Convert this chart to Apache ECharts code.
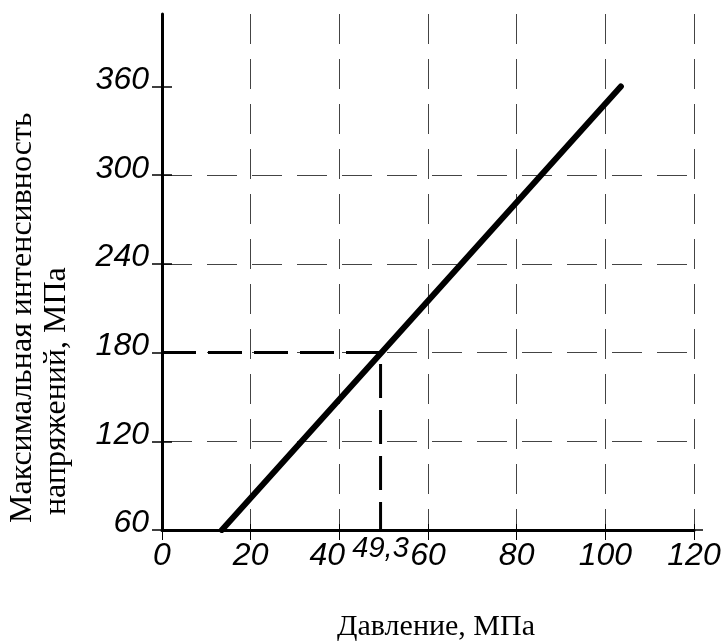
<!DOCTYPE html>
<html>
<head>
<meta charset="utf-8">
<script src="https://cdn.jsdelivr.net/npm/echarts@6/dist/echarts.min.js"></script>
<style>
html, body { margin: 0; padding: 0; background: #fff; }
#chart { width: 725px; height: 641px; }
</style>
</head>
<body>
<div id="chart"></div>
<script>
// давление, МПа -> максимальная интенсивность напряжений, МПа
const pressure = [13.5, 103.5]
const stress = [60, 360]
// отметка на 180 МПа
const markPressure = 49.3
const markStress = 180
const markLabel = '49,3'
const xTicks = [0, 20, 40, 60, 80, 100, 120]
const yTicks = [60, 120, 180, 240, 300, 360]
const yMax = 409
const xTitle = 'Давление, МПа'
const yTitle = ['Максимальная интенсивность', 'напряжений, МПа']

const numFont = '"Liberation Sans", Arial, sans-serif'
const titleFont = '"Liberation Serif", "DejaVu Serif", serif'
const numStyle = { fontFamily: numFont, fontStyle: 'italic', fontSize: 32, color: '#000' }

const chart = echarts.init(document.getElementById('chart'))

const option = {
    animation: false,
    grid: { left: 162, top: 14, right: 31, bottom: 111 },
    xAxis: [
        {
            type: 'value',
            min: xTicks[0],
            max: xTicks[xTicks.length - 1],
            interval: 20,
            axisLine: {
                show: true,
                lineStyle: { color: '#000', width: 3 },
                symbol: ['none', 'rect'],
                symbolSize: [1.5, 18]
            },
            axisTick: { show: true, length: 10, lineStyle: { color: '#000', width: 1 } },
            axisLabel: Object.assign({
                margin: 10,
                formatter: v => v === 40 ? '{l|40}' : String(v),
                rich: {
                    l: Object.assign({ padding: [0, 24, 0, 0] }, numStyle)
                }
            }, numStyle),
            splitLine: { show: true, lineStyle: { color: '#444', width: 1, type: [30, 15] } }
        },
        {
            type: 'value',
            position: 'bottom',
            min: xTicks[0],
            max: xTicks[xTicks.length - 1],
            interval: 20,
            axisLine: { show: false },
            axisTick: { show: true, inside: true, length: 6, lineStyle: { color: '#000', width: 1 } },
            axisLabel: { show: false },
            splitLine: { show: false }
        }
    ],
    yAxis: [
        {
            type: 'value',
            min: yTicks[0],
            max: yMax,
            interval: 60,
            axisLine: { show: true, lineStyle: { color: '#000', width: 3 } },
            axisTick: { show: true, length: 10, customValues: yTicks, lineStyle: { color: '#000', width: 1.5 } },
            axisLabel: Object.assign({
                margin: 13,
                customValues: yTicks,
                formatter: v => '{u|' + v + '}',
                rich: {
                    u: Object.assign({ padding: [0, 0, 13, 0] }, numStyle)
                }
            }, numStyle),
            splitLine: {
                show: true,
                showMinLine: false,
                showMaxLine: false,
                lineStyle: { color: '#444', width: 1, type: [30, 15] }
            }
        },
        {
            type: 'value',
            position: 'left',
            min: yTicks[0],
            max: yMax,
            interval: 60,
            axisLine: { show: false },
            axisTick: { show: true, inside: true, length: 10, customValues: yTicks, lineStyle: { color: '#000', width: 1.5 } },
            axisLabel: { show: false },
            splitLine: { show: false }
        }
    ],
    series: [
        {
            type: 'line',
            data: pressure.map((p, i) => [p, stress[i]]),
            symbol: 'none',
            lineStyle: { color: '#000', width: 6, cap: 'round' },
            z: 5
        },
        {
            type: 'line',
            data: [
                [xTicks[0], markStress],
                [markPressure, markStress],
                {
                    value: [markPressure, yTicks[0]],
                    label: Object.assign({
                        show: true,
                        position: 'bottom',
                        distance: 4,
                        formatter: markLabel
                    }, numStyle, { fontSize: 29 })
                }
            ],
            showSymbol: true,
            symbol: 'circle',
            symbolSize: 0,
            lineStyle: { color: '#000', width: 3, type: [34, 12] },
            z: 4
        }
    ],
    graphic: [
        {
            type: 'text',
            x: 23,
            y: 523,
            rotation: Math.PI / 2,
            style: { text: yTitle[0], fontSize: 32, fontFamily: titleFont, fill: '#000', align: 'left', verticalAlign: 'middle' }
        },
        {
            type: 'text',
            x: 57,
            y: 515,
            rotation: Math.PI / 2,
            style: { text: yTitle[1], fontSize: 32, fontFamily: titleFont, fill: '#000', align: 'left', verticalAlign: 'middle' }
        },
        {
            type: 'text',
            x: 436,
            y: 627,
            style: { text: xTitle, fontSize: 30, fontFamily: titleFont, fill: '#000', align: 'center', verticalAlign: 'middle' }
        }
    ]
}

chart.setOption(option)
</script>
</body>
</html>
